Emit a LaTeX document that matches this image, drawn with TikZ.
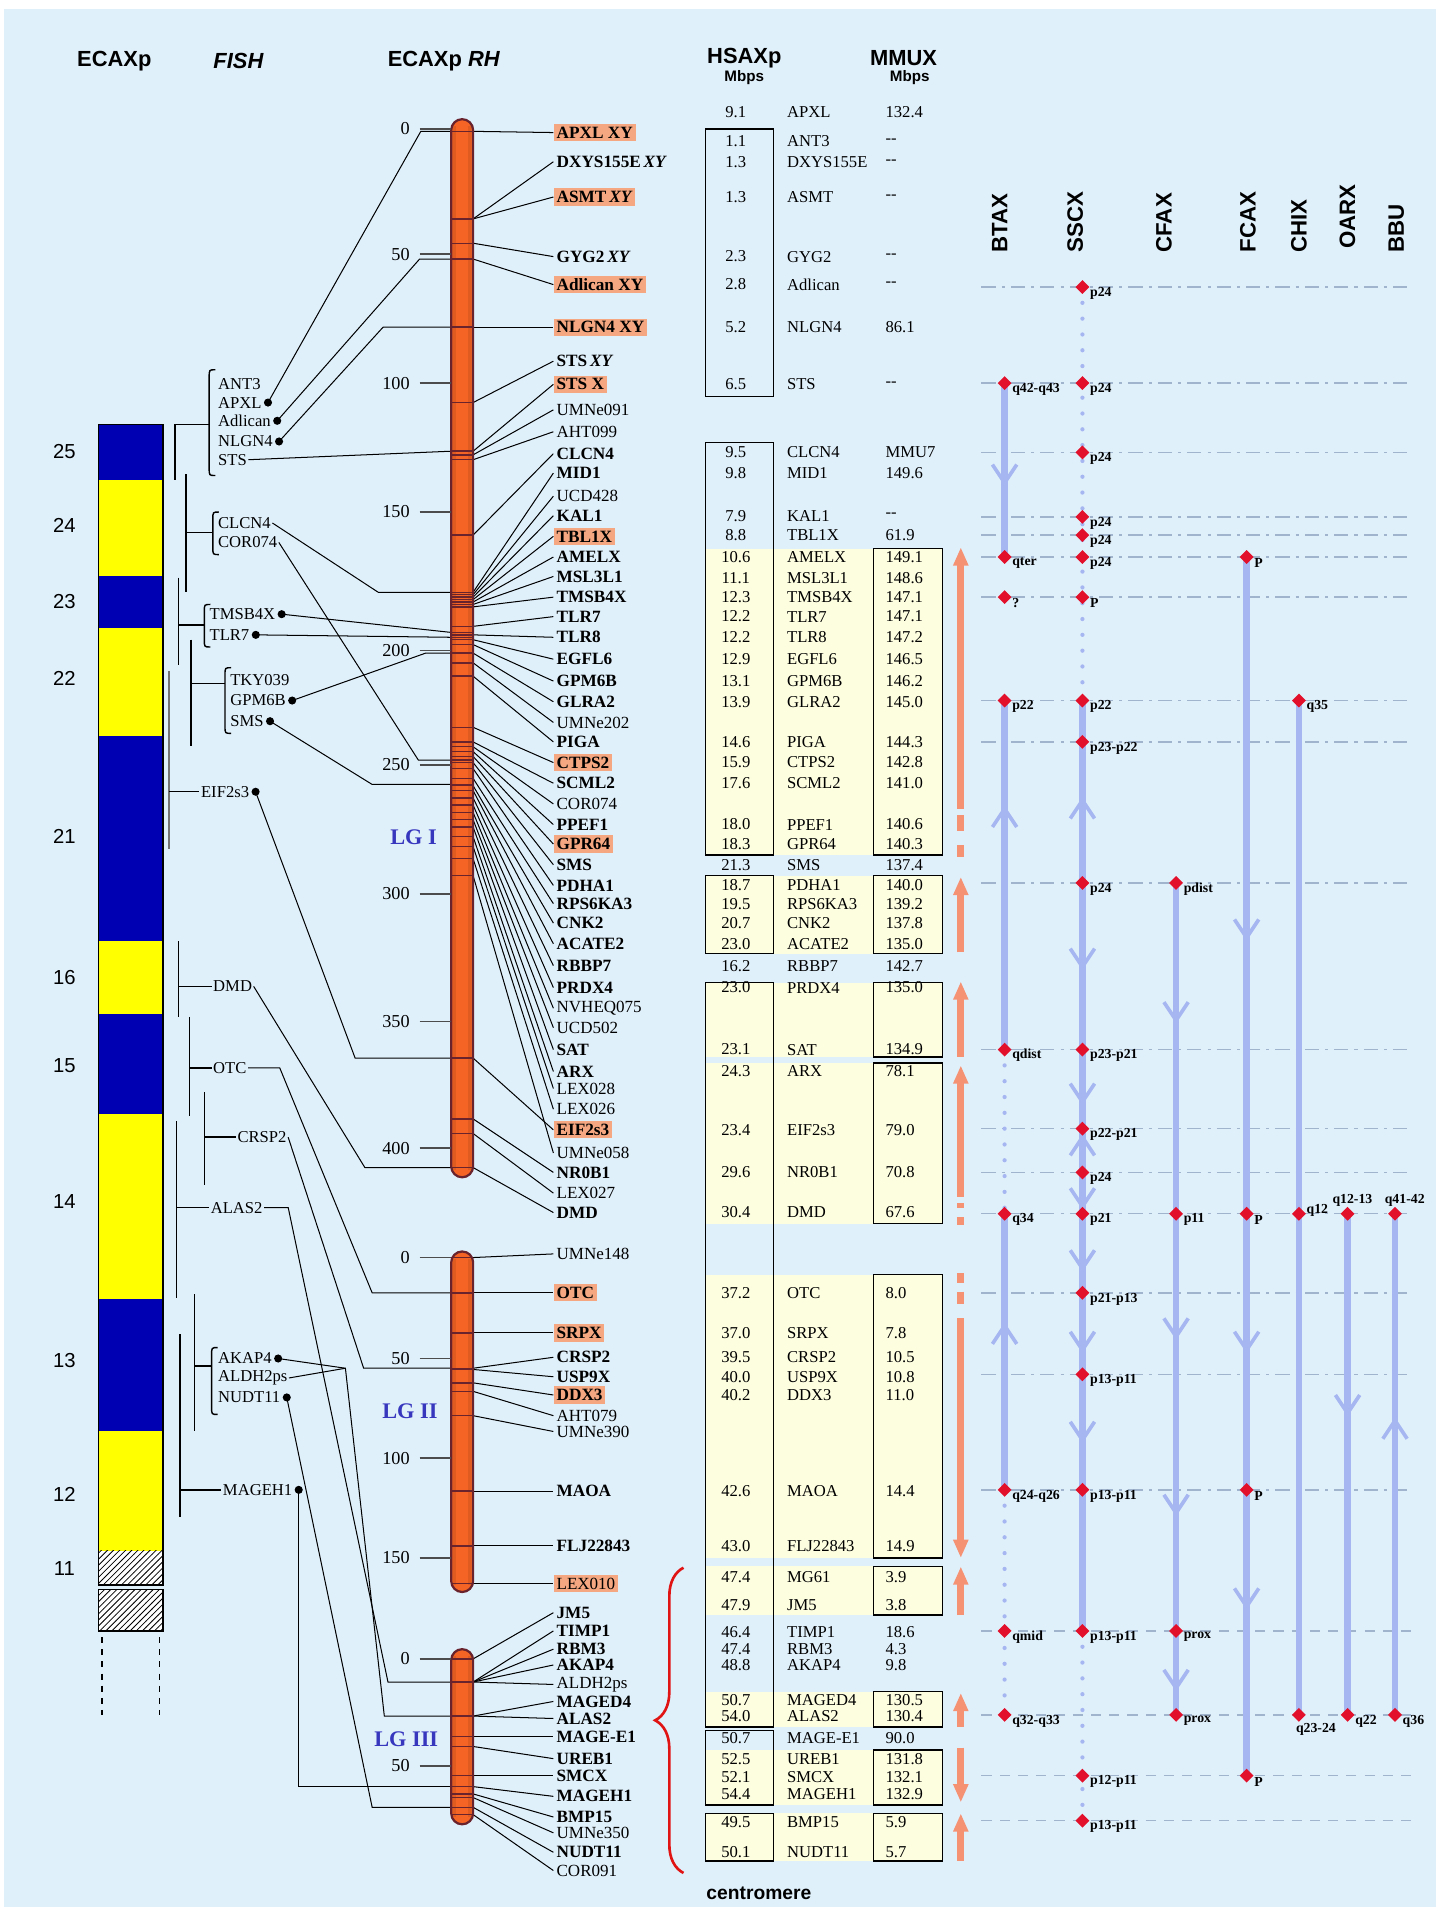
\documentclass[tikz,border=0pt]{standalone}
\usepackage{fontspec}
\setmainfont{Liberation Serif}
\setsansfont{Liberation Sans}
\usetikzlibrary{shapes.geometric,arrows.meta,decorations.pathreplacing,patterns}
\definecolor{bgb}{RGB}{224,240,251}
\definecolor{hl}{RGB}{244,167,128}
\definecolor{chrom}{RGB}{245,100,36}
\definecolor{chromdk}{RGB}{105,35,45}
\definecolor{ideob}{RGB}{0,0,178}
\definecolor{ideoy}{RGB}{255,255,0}
\definecolor{tyel}{RGB}{253,253,224}
\definecolor{sblue}{RGB}{165,182,240}
\definecolor{dred}{RGB}{226,16,42}
\definecolor{oarr}{RGB}{245,146,116}
\definecolor{bracered}{RGB}{225,20,20}
\definecolor{rowl}{RGB}{160,180,205}
\definecolor{lgblue}{RGB}{55,55,190}
\pgfdeclarelayer{back}
\pgfdeclarelayer{mid}
\pgfsetlayers{back,mid,main}
\newcommand\chevdn[2]{\draw[chev] (#1-10,#2-15) -- (#1,#2) -- (#1+10,#2-15);}
\newcommand\chevup[2]{\draw[chev] (#1-10,#2+15) -- (#1,#2) -- (#1+10,#2+15);}
\newcommand\fbrk[3]{\draw[fl] (#1+5,#2) .. controls (#1,#2) .. (#1,#2+6) -- (#1,#3-6) .. controls (#1,#3) .. (#1+5,#3);}
\begin{document}
\begin{tikzpicture}[x=0.6pt,y=-0.6pt,
 gene/.style={anchor=west,inner sep=1.4pt,font=\fontsize{8.5}{9}\selectfont\bfseries},
 gb/.style={gene},
 gn/.style={gene,font=\fontsize{8.4}{9}\selectfont},
 gh/.style={gene,fill=hl},
 gnh/.style={gn,fill=hl},
 ln/.style={black,line width=0.5pt},
 fl/.style={black,line width=0.7pt},
 bnd/.style={chromdk,line width=0.7pt},
 fishl/.style={anchor=west,inner sep=0.6pt,font=\fontsize{8.2}{9}\selectfont},
 fdot/.style={circle,fill=black,inner sep=0pt,minimum size=4pt},
 tickl/.style={anchor=east,inner sep=0.5pt,font=\fontsize{9}{10}\selectfont},
 tickm/.style={black!70,line width=0.8pt},
 tabt/.style={inner sep=0.5pt,font=\fontsize{8.2}{9}\selectfont},
 tbox/.style={draw=black,line width=0.7pt},
 hdr/.style={font=\sffamily\bfseries\fontsize{10.8}{12}\selectfont},
 mb/.style={font=\sffamily\bfseries\fontsize{7.5}{8}\selectfont},
 spc/.style={font=\sffamily\bfseries\fontsize{11}{12}\selectfont,rotate=90,anchor=west,inner sep=0pt},
 rowline/.style={rowl,line width=0.7pt,dash pattern=on 7pt off 3pt on 1.5pt off 3pt},
 rowdash/.style={rowl,line width=0.7pt,dash pattern=on 5pt off 4pt},
 sline/.style={sblue,line width=3.3pt},
 sdot/.style={sblue,line width=2.1pt,line cap=round,dash pattern=on 0pt off 7.8pt},
 chev/.style={sblue,line width=1.8pt},
 dia/.style={diamond,fill=dred,inner sep=0pt,minimum size=7pt},
 slab/.style={anchor=west,inner sep=0pt,font=\bfseries\fontsize{6.8}{7}\selectfont},
 oar/.style={oarr,line width=3.6pt},
 oah/.style={-{Triangle[length=9pt,width=7pt]}},
 idn/.style={font=\sffamily\fontsize{10}{11}\selectfont},
 lg/.style={text=lgblue,font=\bfseries\fontsize{11}{12}\selectfont}
]
\useasboundingbox (0,0) rectangle (1181,1568);
\begin{pgfonlayer}{back}
\fill[white] (0,0) rectangle (1181,1568);
\fill[bgb] (3,7) rectangle (1181,1568);
% table yellow fills
\foreach \a/\b in {451/703,720/784,808/869,874/1006,1048/1281,1288/1328,1391/1420,1439/1484,1491/1530}
  \fill[tyel] (580,\a) rectangle (775,\b);
% species rows
\foreach \y in {236,315,372,425,440,458,491,576,610,726,863,928,964,998,1063,1130,1225}
  \draw[rowline] (807,\y) -- (1160,\y);
\foreach \y in {1341,1410,1460,1497}
  \draw[rowdash] (807,\y) -- (1160,\y);
\end{pgfonlayer}

% ===== headers =====
\node[hdr] (hE) at (94,50) {ECAXp};
\node[hdr] (hF) at (196,50) {\itshape FISH};
\node[hdr] (hR) at (365,50) {ECAXp \textit{RH}};
\node[hdr] (hH) at (612,48) {HSAXp};
\node[mb] (hH2) at (612,64) {Mbps};
\node[hdr] (hM) at (743,48) {MMUX};
\node[mb] (hM2) at (748,64) {Mbps};

% ===== ideogram =====
\foreach \a/\b/\c in {349/395/ideob,395/474/ideoy,474/516/ideob,516/605/ideoy,605/774/ideob,774/834/ideoy,834/916/ideob,916/1068/ideoy,1068/1177/ideob,1177/1275/ideoy}
  \fill[\c] (81,\a) rectangle (134,\b);
\fill[white] (81,1275) rectangle (134,1303);
\fill[white] (81,1307) rectangle (134,1341);
\fill[pattern=north east lines] (81,1275) rectangle (134,1303);
\fill[pattern=north east lines] (81,1307) rectangle (134,1341);
\draw[black,line width=0.8pt] (81,349) rectangle (134,1303);
\draw[black,line width=0.8pt] (81,1307) rectangle (134,1341);
\draw[black,line width=0.7pt,dashed] (84,1346) -- (84,1410);
\draw[black,line width=0.7pt,dashed] (131,1346) -- (131,1410);
\foreach \n/\y in {25/371,24/432,23/495,22/558,21/688,16/804,15/876,14/988,13/1119,12/1229,11/1290}
  \node[idn] at (53,\y) {\n};

% ===== FISH labels =====
\node[fishl] (fANT) at (178,316) {ANT3};
\node[fishl] (fAPXL) at (178,331) {APXL};
\node[fishl] (fADL) at (178,346) {Adlican};
\node[fishl] (fNLG) at (178,363) {NLGN4};
\node[fishl] (fSTS) at (178,378) {STS};
\node[fishl] (fCLC) at (178,430) {CLCN4};
\node[fishl] (fCOR) at (178,446) {COR074};
\node[fishl] (fTMS) at (171,505) {TMSB4X};
\node[fishl] (fTLR) at (171,522) {TLR7};
\node[fishl] (fTKY) at (188,559) {TKY039};
\node[fishl] (fGPM) at (188,576) {GPM6B};
\node[fishl] (fSMS) at (188,593) {SMS};
\node[fishl] (fEIF) at (164,651) {EIF2s3};
\node[fishl] (fDMD) at (174,811) {DMD};
\node[fishl] (fOTC) at (174,878) {OTC};
\node[fishl] (fCRS) at (194,935) {CRSP2};
\node[fishl] (fALA) at (172,993) {ALAS2};
\node[fishl] (fAKA) at (178,1117) {AKAP4};
\node[fishl] (fALD) at (178,1133) {ALDH2ps};
\node[fishl] (fNUD) at (178,1149) {NUDT11};
\node[fishl] (fMAG) at (182,1225) {MAGEH1};
\foreach \n in {APXL,ADL,NLG,TMS,TLR,GPM,SMS,EIF,AKA,NUD,MAG}
  \node[fdot] (d\n) at ([xshift=2.4pt]f\n.east) {};

\fbrk{172}{304}{391}
\fbrk{175}{421}{456}
\fbrk{168}{497}{532}
\fbrk{185}{549}{603}
\fbrk{174}{1108}{1163}
\draw[fl] (144,349) -- (144,395); \draw[fl] (144,349) -- (172,349);
\draw[fl] (153,390) -- (153,487); \draw[fl] (153,438) -- (175,438);
\draw[fl] (147,475) -- (147,547); \draw[fl] (147,514) -- (168,514);
\draw[fl] (157,526) -- (157,613); \draw[fl] (157,562) -- (185,562);
\draw[fl,black!55] (139,552) -- (139,698); \draw[fl] (139,651) -- (fEIF.west);
\draw[fl] (147,774) -- (147,836); \draw[fl] (147,811) -- (fDMD.west);
\draw[fl] (156,836) -- (156,918); \draw[fl] (156,878) -- (fOTC.west);
\draw[fl] (168,898) -- (168,974); \draw[fl] (168,935) -- (fCRS.west);
\draw[fl] (145,922) -- (145,1067); \draw[fl] (145,993) -- (fALA.west);
\draw[fl] (160,1064) -- (160,1177); \draw[fl] (160,1123) -- (174,1123);
\draw[fl] (148,1097) -- (148,1247); \draw[fl] (148,1225) -- (fMAG.west);

% ===== chromosomes =====
\foreach \a/\b in {98/968,1029/1309,1356/1500}{
  \fill[chrom,rounded corners=5.4pt] (371,\a) rectangle (389,\b);
  \fill[chrom!75!black,opacity=0.35] (372.5,\a+6) rectangle (375,\b-6);
  \fill[chrom!75!black,opacity=0.35] (385,\a+6) rectangle (387.5,\b-6);
  \draw[chromdk,line width=1.1pt,rounded corners=5.4pt] (371,\a) rectangle (389,\b);
}
% ticks
\foreach \v/\y in {0/106,50/209,100/315,150/421,200/535,250/629,300/735,350/840,400/944,0/1034,50/1117,100/1199,150/1281,0/1364,50/1452}{
  \node[tickl] at (338,\y) {\v};
  \draw[tickm] (345,\y) -- (371,\y);
}
\node[lg] (lg1) at (340,688) {LG I};
\node[lg] (lg2) at (337,1160) {LG II};
\node[lg] (lg3) at (334,1430) {LG III};

% chromosome attachment points of the FISH lines
\foreach \n/\y in {APXL/108,ADL/213,NLG/269,STS/371,CLC/487,COR/625,TMS/520,TLR/524,GPM/537,SMS/645,EIF/870,DMD/960,OTC/1063,CRS/1125,ALA/1383,AKA/1411,NUD/1486,MAG/1469}{
  \coordinate (k\n) at (371,\y);
  \draw[bnd] (371,\y) -- (389,\y);
}
\draw[bnd] (371,180) -- (389,180);
\draw[bnd] (371,200) -- (389,200);

\begin{pgfonlayer}{mid}
\draw[ln] (dAPXL.center) -- (346,108) -- (kAPXL);
\draw[ln] (dADL.center) -- (345,213) -- (kADL);
\draw[ln] (dNLG.center) -- (315,269) -- (kNLG);
\draw[ln] (fSTS.east) -- (kSTS);
\draw[ln] (fCLC.east) -- (311,487) -- (kCLC);
\draw[ln] (fCOR.east) -- (344,625) -- (kCOR);
\draw[ln] (dTMS.center) -- (kTMS);
\draw[ln] (dTLR.center) -- (kTLR);
\draw[ln] (dGPM.center) -- (350,537) -- (kGPM);
\draw[ln] (dSMS.center) -- (306,645) -- (kSMS);
\draw[ln] (dEIF.center) -- (292,870) -- (kEIF);
\draw[ln] (fDMD.east) -- (300,960) -- (kDMD);
\draw[ln] (fOTC.east) -- (230,878) -- (306,1063) -- (kOTC);
\draw[ln] (fCRS.east) -- (299,1125) -- (kCRS);
\draw[ln] (fALA.east) -- (237,993) -- (319,1383) -- (kALA);
\draw[ln] (dAKA.center) -- (284,1125) -- (316,1411) -- (kAKA);
\draw[ln] (fALD.east) -- (284,1125);
\draw[ln] (dNUD.center) -- (306,1486) -- (kNUD);
\draw[ln] (dMAG.center) |- (kMAG);
\end{pgfonlayer}

% ===== gene labels on the RH maps =====
\foreach \i/\y/\m/\st/\txt in {
1/109/108/gh/{APXL XY},
2/133/180/gb/{DXYS155E\,\textit{XY}},
3/162/180/gh/{ASMT\,\textit{XY}},
4/211/200/gb/{GYG2\,\textit{XY}},
5/234/213/gh/{Adlican XY},
6/269/269/gh/{NLGN4 XY},
7/297/331/gb/{STS\,\textit{XY}},
8/316/371/gh/{STS X},
9/337/374/gn/{UMNe091},
10/355/378/gn/{AHT099},
11/373/440/gb/{CLCN4},
12/389/487/gb/{MID1},
13/408/489/gn/{UCD428},
14/424/491/gb/{KAL1},
15/441/493/gh/{TBL1X},
16/458/495/gb/{AMELX},
17/474/497/gb/{MSL3L1},
18/491/499/gb/{TMSB4X},
19/507/515/gb/{TLR7},
20/524/522/gb/{TLR8},
21/542/526/gb/{EGFL6},
22/560/530/gb/{GPM6B},
23/577/537/gb/{GLRA2},
24/594/545/gn/{UMNe202},
25/610/556/gb/{PIGA},
26/627/598/gh/{CTPS2},
27/644/610/gb/{SCML2},
28/661/614/gn/{COR074},
29/678/618/gb/{PPEF1},
30/694/622/gh/{GPR64},
31/711/627/gb/{SMS},
32/728/632/gb/{PDHA1},
33/743/640/gb/{RPS6KA3},
34/759/646/gb/{CNK2},
35/776/650/gb/{ACATE2},
36/794/656/gb/{RBBP7},
37/812/662/gb/{PRDX4},
38/829/668/gn/{NVHEQ075},
39/845/674/gn/{UCD502},
40/863/680/gb/{SAT},
41/881/688/gb/{ARX},
42/895/696/gn/{LEX028},
43/912/706/gn/{LEX026},
44/929/870/gh/{EIF2s3},
45/948/720/gn/{UMNe058},
46/964/920/gb/{NR0B1},
47/981/932/gn/{LEX027},
48/997/960/gb/{DMD},
49/1031/1034/gn/{UMNe148},
50/1063/1063/gh/{OTC},
51/1096/1096/gh/{SRPX},
52/1116/1125/gb/{CRSP2},
53/1132/1126/gb/{USP9X},
54/1147/1137/gh/{DDX3},
55/1164/1144/gn/{AHT079},
56/1177/1164/gn/{UMNe390},
57/1226/1226/gb/{MAOA},
58/1271/1271/gb/{FLJ22843},
59/1302/1302/gnh/{LEX010},
60/1326/1364/gb/{JM5},
61/1341/1383/gb/{TIMP1},
62/1356/1383/gb/{RBM3},
63/1369/1383/gb/{AKAP4},
64/1385/1383/gn/{ALDH2ps},
65/1399/1411/gb/{MAGED4},
66/1413/1411/gb/{ALAS2},
67/1428/1428/gb/{MAGE-E1},
68/1446/1436/gb/{UREB1},
69/1460/1460/gb/{SMCX},
70/1477/1469/gb/{MAGEH1},
71/1494/1475/gb/{BMP15},
72/1507/1478/gn/{UMNe350},
73/1523/1486/gb/{NUDT11},
74/1538/1492/gn/{COR091}}{
  \node[\st] (L\i) at (455,\y) {\txt};
  \coordinate (M\i) at (389,\m);
  \draw[bnd] (371,\m) -- (389,\m);
  \begin{pgfonlayer}{mid}\draw[ln] (M\i) -- (L\i.west);\end{pgfonlayer}
}

% ===== HSA / MMU table =====
\foreach \i/\y/\h/\g/\mm in {
0/92/9.1/APXL/132.4, 1/116/1.1/ANT3/{-{}-}, 2/133/1.3/DXYS155E/{-{}-}, 3/162/1.3/ASMT/{-{}-},
4/211/2.3/GYG2/{-{}-}, 5/234/2.8/Adlican/{-{}-}, 6/269/5.2/NLGN4/86.1, 7/316/6.5/STS/{-{}-},
8/372/9.5/CLCN4/MMU7, 9/389/9.8/MID1/149.6, 10/424/7.9/KAL1/{-{}-}, 11/440/8.8/TBL1X/61.9,
12/458/10.6/AMELX/149.1, 13/475/11.1/MSL3L1/148.6, 14/491/12.3/TMSB4X/147.1, 15/507/12.2/TLR7/147.1,
16/524/12.2/TLR8/147.2, 17/542/12.9/EGFL6/146.5, 18/560/13.1/GPM6B/146.2, 19/577/13.9/GLRA2/145.0,
20/610/14.6/PIGA/144.3, 21/627/15.9/CTPS2/142.8, 22/644/17.6/SCML2/141.0, 23/678/18.0/PPEF1/140.6,
24/694/18.3/GPR64/140.3, 25/711/21.3/SMS/137.4, 26/728/18.7/PDHA1/140.0, 27/743/19.5/RPS6KA3/139.2,
28/759/20.7/CNK2/137.8, 29/776/23.0/ACATE2/135.0, 30/794/16.2/RBBP7/142.7, 31/812/23.0/PRDX4/135.0,
32/863/23.1/SAT/134.9, 33/881/24.3/ARX/78.1, 34/929/23.4/EIF2s3/79.0, 35/964/29.6/NR0B1/70.8,
36/997/30.4/DMD/67.6, 37/1063/37.2/OTC/8.0, 38/1096/37.0/SRPX/7.8, 39/1116/39.5/CRSP2/10.5,
40/1132/40.0/USP9X/10.8, 41/1147/40.2/DDX3/11.0, 42/1226/42.6/MAOA/14.4, 43/1271/43.0/FLJ22843/14.9,
44/1297/47.4/MG61/3.9, 45/1320/47.9/JM5/3.8, 46/1342/46.4/TIMP1/18.6, 47/1356/47.4/RBM3/4.3,
48/1369/48.8/AKAP4/9.8, 49/1398/50.7/MAGED4/130.5, 50/1411/54.0/ALAS2/130.4, 51/1429/50.7/MAGE-E1/90.0,
52/1446/52.5/UREB1/131.8, 53/1461/52.1/SMCX/132.1, 54/1475/54.4/MAGEH1/132.9, 55/1498/49.5/BMP15/5.9,
56/1523/50.1/NUDT11/5.7}{
  \node[tabt] (th\i) at (605,\y) {\h};
  \node[tabt,anchor=west] (tg\i) at (646,\y) {\g};
  \node[tabt,anchor=west] (tm\i) at (727,\y) {\mm};
}
\foreach \a/\b in {106/326,364/703,720/784,808/1420,1423/1484,1491/1530}
  \draw[tbox] (580,\a) rectangle (636,\b);
\foreach \a/\b in {451/703,720/784,808/869,874/1006,1048/1281,1288/1328,1391/1420,1439/1484,1491/1530}
  \draw[tbox] (718,\a) rectangle (775,\b);

% orange orientation arrows
\draw[oar,oah] (790,665) -- (790,450);
\draw[oar] (790,670) -- (790,683);
\draw[oar] (790,695) -- (790,705);
\draw[oar,oah] (790,783) -- (790,721);
\draw[oar,oah] (790,869) -- (790,807);
\draw[oar,oah] (790,984) -- (790,876);
\draw[oar] (790,989) -- (790,993);
\draw[oar] (790,1001) -- (790,1007);
\draw[oar] (790,1047) -- (790,1055);
\draw[oar] (790,1062) -- (790,1072);
\draw[oar,oah] (790,1084) -- (790,1281);
\draw[oar,oah] (790,1328) -- (790,1288);
\draw[oar,oah] (790,1420) -- (790,1392);
\draw[oar,oah] (790,1437) -- (790,1482);
\draw[oar,oah] (790,1530) -- (790,1491);

% brace and centromere
\draw[bracered,line width=1.3pt,decorate,decoration={brace,amplitude=14pt}] (562,1540) -- (562,1289);
\node[font=\sffamily\bfseries\fontsize{9.5}{10}\selectfont] (cen) at (624,1557) {centromere};

% ===== species columns =====
\node[spc] (sBT) at (822,208) {BTAX};
\node[spc] (sSS) at (884,208) {SSCX};
\node[spc] (sCF) at (957,208) {CFAX};
\node[spc] (sFC) at (1026,208) {FCAX};
\node[spc] (sCH) at (1068,208) {CHIX};
\node[spc] (sOA) at (1108,205) {OARX};
\node[spc] (sBB) at (1148,208) {BBU};

\foreach \kk/\x/\y/\lab in {
1/890/236/p24, 2/826/315/q42-q43, 3/890/315/p24, 4/890/372/p24, 5/890/425/p24, 6/890/440/p24,
7/826/458/qter, 8/890/458/p24, 9/1025/458/P, 10/826/491/?, 11/890/491/P,
12/826/576/p22, 13/890/576/p22, 14/1068/576/q35, 15/890/610/p23-p22,
16/890/726/p24, 17/967/726/pdist, 18/826/863/qdist, 19/890/863/p23-p21,
20/890/928/p22-p21, 21/890/964/p24,
22/826/998/q34, 23/890/998/p21, 24/967/998/p11, 25/1025/998/P,
29/890/1063/p21-p13, 30/890/1130/p13-p11,
31/826/1225/q24-q26, 32/890/1225/p13-p11, 33/1025/1225/P,
34/826/1341/qmid, 35/890/1341/p13-p11, 36/967/1341/prox,
37/826/1410/q32-q33, 38/967/1410/prox, 40/1108/1410/q22, 41/1147/1410/q36,
42/890/1460/p12-p11, 43/1025/1460/P, 44/890/1497/p13-p11}{
  \node[dia] (D\kk) at (\x,\y) {};
  \node[slab] (S\kk) at (\x+6,\y+5) {\lab};
}
\node[dia] (D26) at (1068,998) {};
\node[slab] (S26) at (1074,995) {q12};
\node[dia] (D27) at (1108,998) {};
\node[slab,anchor=south] (S27) at (1112,992) {q12-13};
\node[dia] (D28) at (1147,998) {};
\node[slab,anchor=south] (S28) at (1155,992) {q41-42};
\node[dia] (D39) at (1068,1410) {};
\node[slab,anchor=north] (S39) at (1082,1417) {q23-24};

\begin{pgfonlayer}{mid}
% BTAX
\draw[sline] (D2.center) -- (D7.center);
\draw[sline] (D12.center) -- (D18.center);
\draw[sdot] (D18.center) -- (D22.center);
\draw[sline] (D22.center) -- (D31.center);
\draw[sdot] (D31.center) -- (D37.center);
% SSCX
\draw[sdot] (D1.center) -- (D13.center);
\draw[sline] (D13.center) -- (D35.center);
\draw[sdot] (D35.center) -- (D44.center);
% CFAX, FCAX, CHIX, OARX, BBU
\draw[sline] (D17.center) -- (D38.center);
\draw[sline] (D9.center) -- (D43.center);
\draw[sline] (D14.center) -- (D39.center);
\draw[sline] (D27.center) -- (D40.center);
\draw[sline] (D28.center) -- (D41.center);
% direction chevrons
\chevdn{826}{397} \chevup{826}{665} \chevup{826}{1090}
\chevup{890}{658} \chevdn{890}{795} \chevdn{890}{906} \chevup{890}{935}
\chevdn{890}{992} \chevdn{890}{1043} \chevdn{890}{1110} \chevdn{890}{1184}
\chevdn{967}{839} \chevdn{967}{1099} \chevdn{967}{1244} \chevdn{967}{1388}
\chevdn{1025}{771} \chevdn{1025}{1110} \chevdn{1025}{1321}
\chevdn{1108}{1162}
\chevup{1147}{1168}
\end{pgfonlayer}
\end{tikzpicture}
\end{document}
